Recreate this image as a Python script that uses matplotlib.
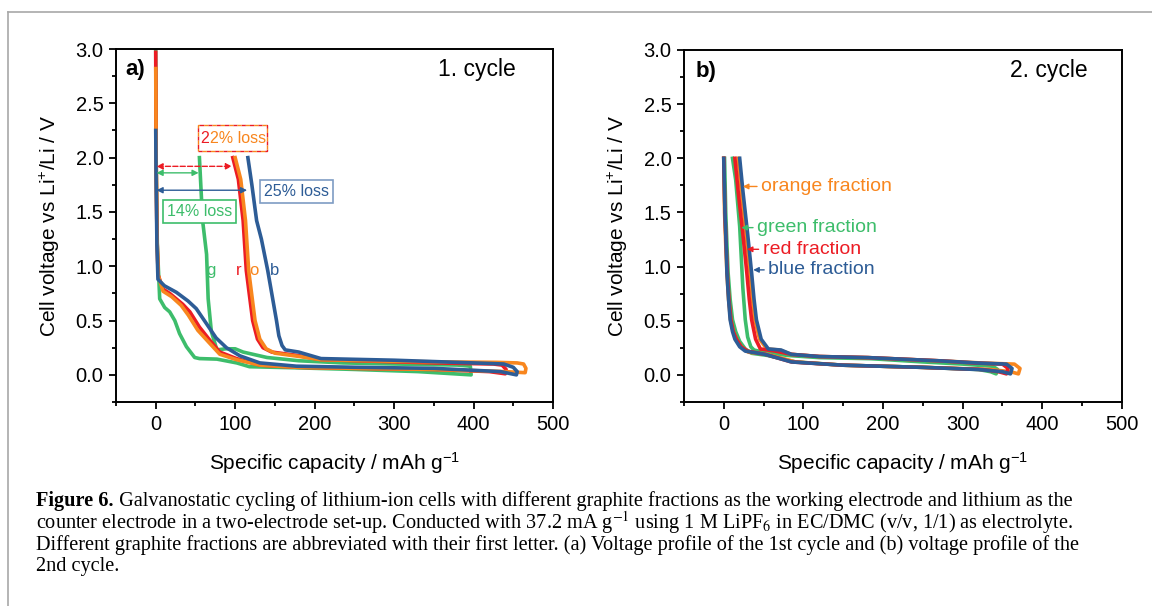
import matplotlib
matplotlib.use('Agg')
import matplotlib.pyplot as plt
from matplotlib.lines import Line2D
from matplotlib.patches import Rectangle
from matplotlib.ticker import MultipleLocator

plt.rcParams['font.family'] = ['Liberation Sans', 'DejaVu Sans']
plt.rcParams['mathtext.fontset'] = 'custom'
plt.rcParams['mathtext.rm'] = 'Liberation Sans'
plt.rcParams['mathtext.it'] = 'Liberation Sans:italic'
plt.rcParams['mathtext.bf'] = 'Liberation Sans:bold'

GREEN = '#3dbd6b'
RED = '#ec1c24'
ORANGE = '#f8861e'
BLUE = '#2d5c96'

# ---- 1st cycle (panel a): discharge then charge, capacity in mAh/g, voltage in V
g1_dis_x = [0, 0.5, 2, 5, 11.3, 17.6, 24, 30, 38.6, 49, 55, 77, 102, 118, 177, 250, 330, 397]
g1_dis_y = [3.0, 2.0, 1.2, 0.70, 0.62, 0.58, 0.50, 0.38, 0.26, 0.16, 0.15, 0.145, 0.11, 0.075, 0.065, 0.05, 0.03, 0.0]
g1_chg_x = [397, 396, 380, 300, 236, 180, 140, 110, 100, 88, 77, 70, 66, 64, 59, 55]
g1_chg_y = [0.0, 0.08, 0.09, 0.10, 0.11, 0.13, 0.16, 0.21, 0.24, 0.24, 0.23, 0.40, 0.70, 1.11, 1.42, 2.0]

r1_dis_x = [0, 0.5, 1.5, 3, 9.2, 17.6, 34, 43, 55, 68, 80.6, 101.6, 131, 177, 250, 350, 420, 440]
r1_dis_y = [2.97, 2.0, 1.3, 0.92, 0.79, 0.75, 0.65, 0.58, 0.44, 0.32, 0.21, 0.15, 0.09, 0.07, 0.06, 0.05, 0.03, 0.01]
r1_chg_x = [440, 441, 436, 425, 350, 300, 208, 177, 146, 135, 128, 122, 114, 110, 104, 97]
r1_chg_y = [0.01, 0.05, 0.09, 0.10, 0.11, 0.12, 0.14, 0.18, 0.21, 0.25, 0.33, 0.5, 0.96, 1.42, 1.8, 2.0]

o1_dis_x = [0, 0.5, 1.5, 3, 9.2, 20, 32, 41, 53, 68, 80.6, 101.6, 131, 177, 250, 350, 440, 465]
o1_dis_y = [2.82, 2.0, 1.3, 0.92, 0.77, 0.72, 0.64, 0.55, 0.41, 0.29, 0.19, 0.14, 0.09, 0.07, 0.06, 0.05, 0.03, 0.02]
o1_chg_x = [465, 466, 463, 455, 430, 350, 300, 208, 180, 150, 139, 131, 125, 117, 113, 107, 100]
o1_chg_y = [0.02, 0.06, 0.10, 0.11, 0.115, 0.12, 0.125, 0.14, 0.17, 0.20, 0.24, 0.33, 0.5, 0.96, 1.42, 1.8, 2.0]

b1_dis_x = [0, 0.5, 1.5, 2.8, 11, 26, 40.7, 51, 64, 76, 89, 106, 131, 177, 250, 350, 434, 454]
b1_dis_y = [2.25, 1.8, 1.2, 0.88, 0.82, 0.76, 0.68, 0.61, 0.47, 0.34, 0.25, 0.175, 0.11, 0.08, 0.07, 0.06, 0.03, 0.0]
b1_chg_x = [454, 455, 450, 438, 400, 300, 208, 180, 163, 159, 155, 152, 141, 133, 127, 121, 116]
b1_chg_y = [0.0, 0.03, 0.07, 0.10, 0.11, 0.135, 0.15, 0.21, 0.23, 0.27, 0.36, 0.5, 0.96, 1.25, 1.42, 1.75, 2.0]

# ---- 2nd cycle (panel b)
g2_dis_x = [1, 2.5, 4, 5.5, 8, 11, 15, 20, 27, 35, 55, 90, 150, 250, 320, 335, 342]
g2_dis_y = [2.0, 1.5, 1.2, 0.94, 0.7, 0.51, 0.40, 0.31, 0.24, 0.20, 0.18, 0.12, 0.09, 0.07, 0.05, 0.03, 0.01]
g2_chg_x = [342, 344, 338, 300, 250, 185, 120, 80, 50, 38, 34, 30, 27, 24, 20, 15, 11]
g2_chg_y = [0.01, 0.05, 0.08, 0.10, 0.12, 0.15, 0.16, 0.18, 0.21, 0.23, 0.26, 0.35, 0.51, 0.8, 1.37, 1.8, 2.0]

r2_dis_x = [0, 1.5, 3, 4.5, 6.5, 9, 12, 16, 22, 30, 52, 85, 150, 250, 325, 345, 355]
r2_dis_y = [2.0, 1.5, 1.2, 0.94, 0.7, 0.51, 0.40, 0.33, 0.26, 0.22, 0.19, 0.12, 0.09, 0.07, 0.05, 0.03, 0.01]
r2_chg_x = [355, 357, 350, 315, 272, 181, 120, 85, 65, 46, 40, 35, 32, 29, 24, 18, 14]
r2_chg_y = [0.01, 0.06, 0.10, 0.11, 0.13, 0.16, 0.17, 0.19, 0.22, 0.24, 0.33, 0.51, 0.7, 0.94, 1.3, 1.7, 2.0]

o2_dis_x = [0, 1, 2.5, 4, 6, 8.5, 12, 16, 23, 31, 55, 90, 150, 250, 335, 360, 370]
o2_dis_y = [2.0, 1.5, 1.2, 0.94, 0.7, 0.51, 0.40, 0.32, 0.25, 0.21, 0.19, 0.12, 0.09, 0.07, 0.05, 0.03, 0.01]
o2_chg_x = [370, 372, 365, 325, 272, 181, 120, 85, 70, 54, 45, 39, 36, 33, 28, 22, 18]
o2_chg_y = [0.01, 0.06, 0.10, 0.11, 0.13, 0.16, 0.17, 0.19, 0.23, 0.24, 0.33, 0.51, 0.7, 0.94, 1.3, 1.7, 2.0]

b2_dis_x = [0, 1.5, 3, 4, 6, 8, 11, 14, 20, 27, 52, 85, 150, 250, 320, 350, 360]
b2_dis_y = [2.0, 1.5, 1.2, 0.94, 0.7, 0.51, 0.40, 0.33, 0.26, 0.22, 0.19, 0.12, 0.09, 0.07, 0.05, 0.03, 0.01]
b2_chg_x = [360, 362, 355, 320, 272, 181, 120, 85, 72, 56, 47, 41, 38, 35, 30, 24, 20]
b2_chg_y = [0.01, 0.06, 0.10, 0.11, 0.13, 0.16, 0.17, 0.19, 0.23, 0.24, 0.33, 0.51, 0.7, 0.94, 1.3, 1.7, 2.0]

x_ticks = [0, 100, 200, 300, 400, 500]
y_ticks = [0.0, 0.5, 1.0, 1.5, 2.0, 2.5, 3.0]

fig = plt.figure(figsize=(11.52, 6.06), dpi=100)
ax1 = fig.add_axes([0.1007, 0.3366, 0.3793, 0.5825])
ax2 = fig.add_axes([0.5937, 0.3366, 0.3802, 0.5809])


def style_axis(ax):
    ax.set_xlim(-50, 500)
    ax.set_ylim(-0.25, 3.0)
    ax.set_xticks(x_ticks)
    ax.set_yticks(y_ticks)
    ax.set_yticklabels([f'{v:.1f}' for v in y_ticks])
    ax.xaxis.set_minor_locator(MultipleLocator(50))
    ax.yaxis.set_minor_locator(MultipleLocator(0.25))
    ax.tick_params(which='major', direction='out', length=5, width=1.3, labelsize=14.5, pad=4)
    ax.tick_params(which='minor', direction='out', length=3, width=1.3)
    for s in ax.spines.values():
        s.set_linewidth(1.4)
    ax.set_xlabel('Specific capacity / mAh g$^{\\mathregular{-1}}$', fontsize=15, labelpad=12)
    ax.set_ylabel('Cell voltage vs Li$^{\\mathregular{+}}$/Li / V', fontsize=15, labelpad=10)


lw = 2.6
curves1 = [(g1_dis_x, g1_dis_y, g1_chg_x, g1_chg_y, GREEN),
           (r1_dis_x, r1_dis_y, r1_chg_x, r1_chg_y, RED),
           (o1_dis_x, o1_dis_y, o1_chg_x, o1_chg_y, ORANGE),
           (b1_dis_x, b1_dis_y, b1_chg_x, b1_chg_y, BLUE)]
for dx, dy, cx, cy, c in curves1:
    ax1.plot(dx + cx[1:], dy + cy[1:], color=c, lw=lw, solid_joinstyle='round')

curves2 = [(g2_dis_x, g2_dis_y, g2_chg_x, g2_chg_y, GREEN),
           (o2_dis_x, o2_dis_y, o2_chg_x, o2_chg_y, ORANGE),
           (r2_dis_x, r2_dis_y, r2_chg_x, r2_chg_y, RED),
           (b2_dis_x, b2_dis_y, b2_chg_x, b2_chg_y, BLUE)]
for dx, dy, cx, cy, c in curves2:
    ax2.plot(dx + cx[1:], dy + cy[1:], color=c, lw=lw, solid_joinstyle='round')

style_axis(ax1)
style_axis(ax2)

# panel a annotations
ax1.text(-38, 2.81, 'a)', fontsize=16, fontweight='bold', va='center')
ax1.text(404, 2.81, '1. cycle', fontsize=16.5, ha='center', va='center')
ax1.annotate('', xy=(96, 1.92), xytext=(1, 1.92),
             arrowprops=dict(arrowstyle='<|-|>', color=RED, lw=1, ls='--',
                             mutation_scale=9, shrinkA=0, shrinkB=0))
ax1.annotate('', xy=(54, 1.86), xytext=(1, 1.86),
             arrowprops=dict(arrowstyle='<|-|>', color=GREEN, lw=1,
                             mutation_scale=9, shrinkA=0, shrinkB=0))
ax1.annotate('', xy=(115, 1.70), xytext=(1, 1.70),
             arrowprops=dict(arrowstyle='<|-|>', color=BLUE, lw=1,
                             mutation_scale=9, shrinkA=0, shrinkB=0))

# "22% loss": first digit red, rest orange, in a red/orange dashed box
ax1.add_patch(Rectangle((53, 2.06), 87, 0.24, fill=False, ec=RED, lw=1, ls=(0, (3, 3))))
ax1.add_patch(Rectangle((53, 2.06), 87, 0.24, fill=False, ec=ORANGE, lw=1, ls=(3, (3, 3))))
ax1.text(67.5, 2.18, '2', color=RED, fontsize=11.5, ha='right', va='center')
ax1.text(68.5, 2.18, '2% loss', color=ORANGE, fontsize=11.5, ha='left', va='center')

ax1.text(177, 1.69, '25% loss', color=BLUE, fontsize=11.5, ha='center', va='center',
         bbox=dict(boxstyle='square,pad=0.25', fc='white', ec='#7e9cc4', lw=1.2))
ax1.text(55, 1.50, '14% loss', color=GREEN, fontsize=11.5, ha='center', va='center',
         bbox=dict(boxstyle='square,pad=0.25', fc='white', ec=GREEN, lw=1.2))

ax1.text(70, 0.96, 'g', color=GREEN, fontsize=12, ha='center', va='center')
ax1.text(105, 0.96, 'r', color=RED, fontsize=12, ha='center', va='center')
ax1.text(124, 0.96, 'o', color=ORANGE, fontsize=12, ha='center', va='center')
ax1.text(149, 0.96, 'b', color=BLUE, fontsize=12, ha='center', va='center')

# panel b annotations
ax2.text(-35, 2.80, 'b)', fontsize=16, fontweight='bold', va='center')
ax2.text(408, 2.81, '2. cycle', fontsize=16.5, ha='center', va='center')
labels_b = [('orange fraction', ORANGE, 47, 1.74, 24),
            ('green fraction', GREEN, 42, 1.36, 22),
            ('red fraction', RED, 49, 1.16, 29),
            ('blue fraction', BLUE, 56, 0.97, 37)]
for txt, c, tx, ty, hx in labels_b:
    ax2.annotate(txt, xy=(hx, ty), xytext=(tx, ty), color=c, fontsize=14,
                 ha='left', va='center',
                 arrowprops=dict(arrowstyle='-|>', color=c, lw=1, mutation_scale=8,
                                 shrinkA=1, shrinkB=0))

# caption
cap_fs = 14.6
cap_kw = dict(fontsize=cap_fs, family='Liberation Serif', math_fontfamily='stix', va='center')
cx0 = 36 / 1152
tb = fig.text(cx0, 1 - 501 / 606, 'Figure 6.', fontweight='bold', **cap_kw)
fig.canvas.draw()
bb = tb.get_window_extent(fig.canvas.get_renderer())
fig.text(bb.x1 / 1152, 1 - 501 / 606,
         ' Galvanostatic cycling of lithium-ion cells with different graphite fractions as the '
         'working electrode and lithium as the', **cap_kw)
fig.text(cx0, 1 - 523 / 606,
         'counter electrode in a two-electrode set-up. Conducted with 37.2 mA g$^{-1}$ using '
         '1 M LiPF$_6$ in EC/DMC (v/v, 1/1) as electrolyte.', **cap_kw)
fig.text(cx0, 1 - 545 / 606,
         'Different graphite fractions are abbreviated with their first letter. (a) Voltage '
         'profile of the 1st cycle and (b) voltage profile of the', **cap_kw)
fig.text(cx0, 1 - 567 / 606, '2nd cycle.', **cap_kw)

# thin frame around the figure block
fig.add_artist(Line2D([8 / 1152, 1], [1 - 12 / 606, 1 - 12 / 606], color='#a8a8a8', lw=1.2))
fig.add_artist(Line2D([8 / 1152, 8 / 1152], [0, 1 - 12 / 606], color='#a8a8a8', lw=1.2))

fig.savefig('out.png', dpi=100)
